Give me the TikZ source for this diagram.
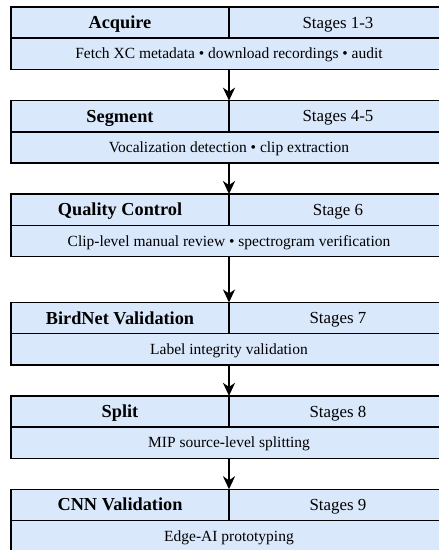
\documentclass[tikz,border=0pt]{standalone}
\usepackage{fontspec}
\setmainfont{Liberation Serif}
\usetikzlibrary{arrows.meta,positioning}
\definecolor{stagefill}{HTML}{DAE8FC}

\begin{document}
\begin{tikzpicture}[x=1pt,y=-1pt,
    cell/.style={draw=black,line width=1.5pt,fill=stagefill,outer sep=0pt,inner sep=0pt,
      minimum height=31.2pt,text depth=0pt},
    title/.style={cell,minimum width=218pt,text height=12.1pt,font=\fontsize{18.3}{20}\selectfont\bfseries},
    stagenum/.style={cell,minimum width=218pt,text height=11.2pt,font=\fontsize{16.9}{19}\selectfont},
    body/.style={cell,minimum width=436pt,text height=10.3pt,font=\fontsize{15.5}{18}\selectfont},
    flow/.style={line width=2pt,-{Stealth[length=13pt,width=12pt,inset=4pt]}}]
  \clip (0,0) rectangle (439,550);

  % acquire
  \node[title] (acqT) at (120,22.6) {Acquire};
  \node[stagenum, right=0pt of acqT] (acqS) {Stages 1-3};
  \node[body, below=0pt of acqT.south east] (acqB) {Fetch XC metadata • download recordings • audit};

  % segment
  \node[title, below right=31.3pt and 0pt of acqB.south west] (segT) {Segment};
  \node[stagenum, right=0pt of segT] (segS) {Stages 4-5};
  \node[body, below=0pt of segT.south east] (segB) {Vocalization detection • clip extraction};

  % quality control
  \node[title, below right=31pt and 0pt of segB.south west] (qcT) {Quality Control};
  \node[stagenum, right=0pt of qcT] (qcS) {Stage 6};
  \node[body, below=0pt of qcT.south east] (qcB) {Clip-level manual review • spectrogram verification};

  % birdnet
  \node[title, below right=46pt and 0pt of qcB.south west] (bnT) {BirdNet Validation};
  \node[stagenum, right=0pt of bnT] (bnS) {Stages 7};
  \node[body, below=0pt of bnT.south east] (bnB) {Label integrity validation};

  % split
  \node[title, below right=31pt and 0pt of bnB.south west] (splT) {Split};
  \node[stagenum, right=0pt of splT] (splS) {Stages 8};
  \node[body, below=0pt of splT.south east] (splB) {MIP source-level splitting};

  % cnn
  \node[title, below right=31pt and 0pt of splB.south west] (cnnT) {CNN Validation};
  \node[stagenum, right=0pt of cnnT] (cnnS) {Stages 9};
  \node[body, below=0pt of cnnT.south east] (cnnB) {Edge-AI prototyping};

  \draw[flow] (acqB.south) -- (segT.north east);
  \draw[flow] (segB.south) -- (qcT.north east);
  \draw[flow] (qcB.south) -- (bnT.north east);
  \draw[flow] (bnB.south) -- (splT.north east);
  \draw[flow] (splB.south) -- (cnnT.north east);
\end{tikzpicture}
\end{document}
